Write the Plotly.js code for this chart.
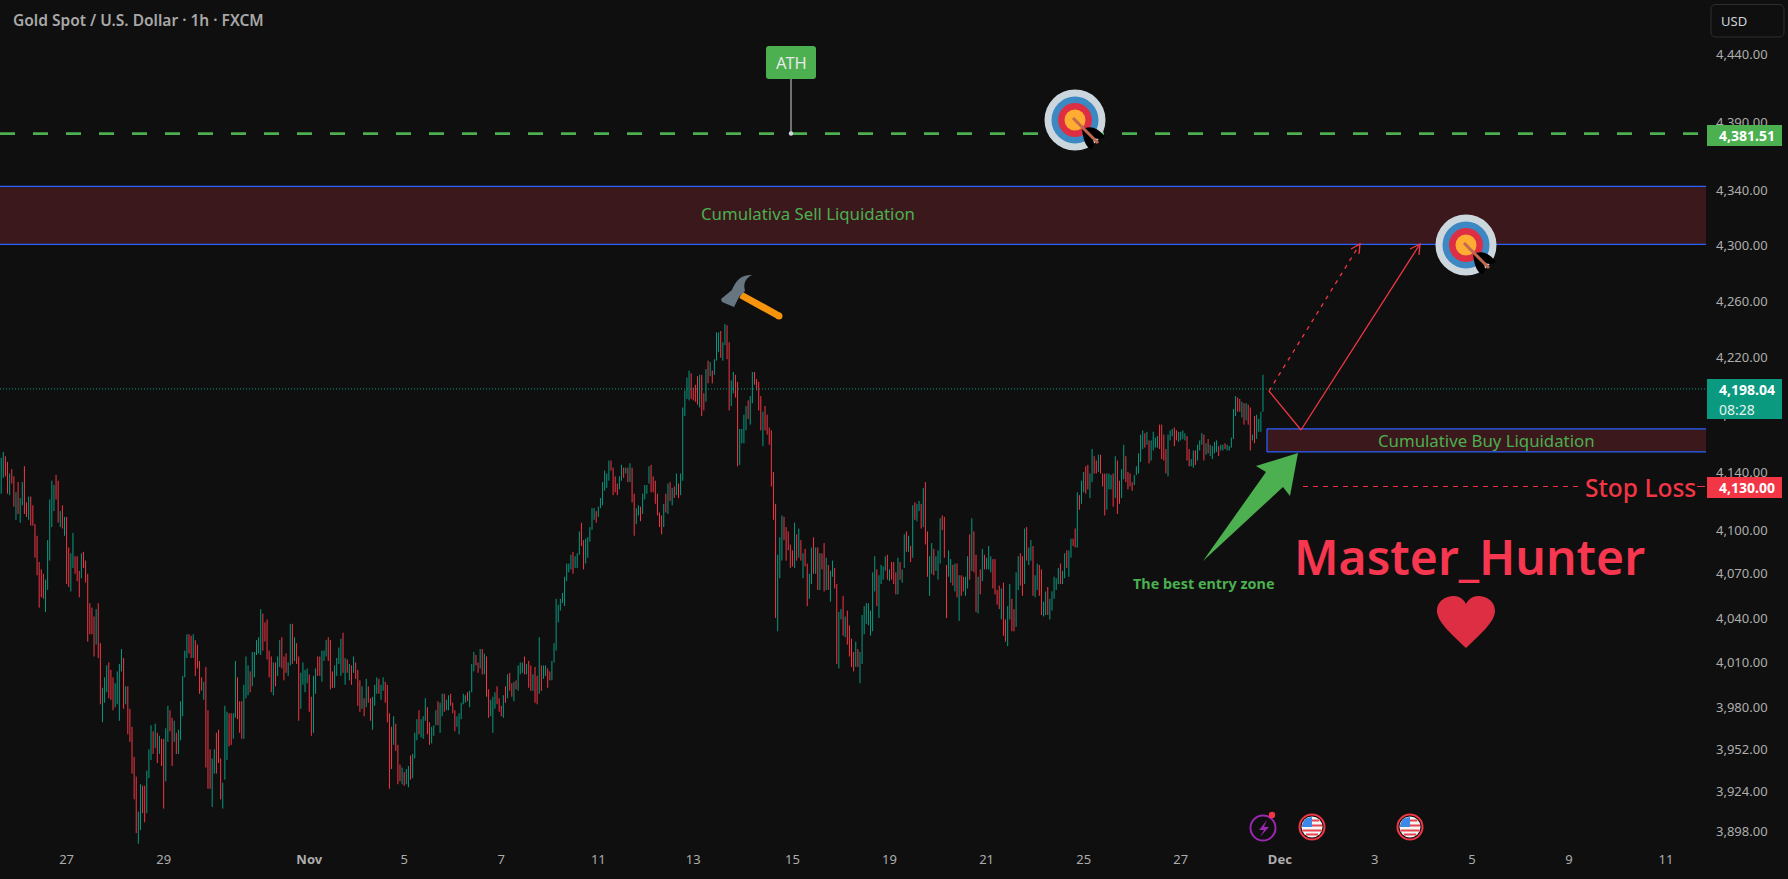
<!DOCTYPE html>
<html><head><meta charset="utf-8">
<script src="https://cdn.plot.ly/plotly-3.0.1.min.js"></script>
<style>html,body{margin:0;padding:0;background:#0f0f0f;overflow:hidden}</style>
</head><body><div id="chart" style="width:1788px;height:879px"></div>
<script>
const barHigh = [
4150,4154,4151,4147,4139,4142,4137,4126,4133,4122,
4133,4144,4119,4123,4123,4117,4104,4096,4078,4073,
4070,4066,4093,4121,4134,4131,4138,4134,4113,4117,
4109,4109,4088,4084,4098,4082,4082,4072,4084,4085,
4079,4070,4050,4047,4041,4046,4050,4023,3993,4000,
4008,4010,4005,4000,3996,4004,4009,4019,4013,3994,
3994,3979,3967,3947,3934,3911,3929,3928,3928,3938,
3952,3968,3964,3969,3963,3961,3959,3959,3966,3981,
3978,3973,3971,3963,3965,3984,4001,4018,4029,4029,
4028,4029,4025,4022,4011,4000,3997,4007,3978,3952,
3946,3952,3963,3965,3946,3930,3981,3977,3976,3976,
3976,4011,4000,3984,3984,3995,4014,4008,4004,4017,
4017,4025,4027,4046,4043,4037,4039,4018,4014,4010,
4010,4014,4025,4027,4014,4016,4010,4036,4036,4027,
4023,4014,4003,4010,4005,4006,4002,3987,4001,4006,
4014,4014,4018,4018,4025,4027,4025,4004,4008,4013,
4020,4026,4030,4013,4012,4009,4008,4014,4010,4005,
3998,3994,3986,3999,3994,3986,3987,3995,4000,3999,
3995,4000,3997,3995,3976,3967,3974,3969,3955,3942,
3940,3937,3939,3941,3948,3949,3963,3972,3978,3972,
3974,3986,3980,3970,3967,3968,3978,3984,3983,3989,
3989,3985,3988,3989,3983,3978,3974,3976,3983,3989,
3988,3990,3991,4009,4017,4015,4010,4019,4019,4016,
4014,3992,3985,3987,3990,3994,3986,3981,3988,3994,
4002,4003,3996,3997,3998,4008,4010,4010,4014,4009,
4011,4008,4002,4007,4001,4027,4008,4008,4008,4006,
4004,4011,4023,4053,4049,4053,4057,4068,4077,4077,
4083,4085,4082,4084,4099,4105,4093,4094,4095,4102,
4115,4115,4113,4116,4122,4133,4141,4139,4148,4148,
4143,4137,4132,4137,4145,4143,4143,4143,4146,4143,
4125,4115,4117,4116,4125,4131,4131,4144,4145,4137,
4134,4125,4112,4110,4118,4125,4132,4133,4129,4130,
4139,4132,4139,4185,4197,4206,4211,4209,4199,4201,
4207,4208,4208,4195,4212,4218,4217,4211,4219,4238,
4238,4239,4231,4244,4243,4231,4204,4210,4208,4203,
4170,4170,4180,4186,4190,4193,4210,4210,4205,4203,
4193,4182,4186,4180,4171,4169,4140,4118,4083,4095,
4110,4109,4102,4099,4090,4086,4105,4097,4101,4093,
4084,4087,4077,4070,4088,4095,4088,4088,4084,4084,
4091,4081,4076,4072,4079,4074,4063,4044,4046,4055,
4041,4045,4035,4026,4017,4024,4019,4017,4042,4048,
4050,4050,4045,4071,4082,4073,4069,4076,4075,4082,
4083,4073,4078,4078,4071,4081,4078,4073,4097,4099,
4096,4089,4117,4119,4118,4120,4118,4129,4133,4099,
4082,4091,4087,4082,4086,4108,4110,4109,4076,4086,
4080,4076,4077,4077,4069,4069,4068,4068,4082,4097,
4108,4099,4083,4068,4073,4087,4083,4081,4089,4082,
4080,4080,4059,4062,4060,4064,4039,4048,4063,4053,
4046,4071,4082,4084,4082,4101,4102,4088,4093,4089,
4069,4077,4076,4073,4051,4058,4061,4053,4058,4068,
4067,4074,4077,4072,4084,4086,4086,4094,4094,4101,
4126,4124,4134,4140,4144,4145,4139,4156,4151,4148,
4152,4152,4139,4139,4139,4139,4138,4139,4151,4148,
4134,4142,4159,4151,4140,4139,4133,4138,4144,4153,
4166,4169,4167,4168,4162,4162,4168,4164,4165,4173,
4173,4166,4156,4166,4169,4170,4171,4169,4168,4168,
4169,4167,4165,4156,4149,4155,4155,4159,4162,4167,
4166,4160,4163,4159,4158,4161,4162,4158,4159,4159,
4160,4159,4158,4164,4184,4193,4192,4191,4189,4188,
4188,4187,4185,4166,4179,4180,4177,4182,4208];
const barLow = [
4125,4136,4137,4125,4124,4132,4116,4107,4111,4105,
4117,4111,4109,4107,4103,4103,4081,4069,4047,4054,
4053,4044,4059,4079,4102,4113,4121,4105,4102,4101,
4096,4063,4061,4058,4074,4070,4065,4054,4067,4074,
4064,4024,4029,4029,4014,4022,4013,3982,3970,3983,
3990,3986,3985,3978,3980,3982,3971,4004,3979,3982,
3962,3957,3936,3919,3897,3890,3899,3910,3904,3910,
3933,3945,3949,3953,3943,3949,3941,3913,3931,3957,
3964,3941,3957,3949,3949,3958,3974,4000,4013,4016,
4013,4013,4001,4006,3989,3991,3985,3940,3926,3926,
3914,3936,3936,3943,3919,3913,3932,3945,3954,3955,
3959,3973,3972,3963,3959,3959,3986,3988,3990,3994,
4000,4015,4016,4015,4018,4024,4012,4000,3990,3988,
3994,4001,4007,4006,3998,4003,4001,4008,4009,4011,
4009,3971,3979,3995,3990,3996,3977,3961,3963,3989,
4001,4001,3997,4011,4014,4011,3992,3993,3993,4001,
4009,4001,4003,3995,4003,3998,3995,4003,3999,3981,
3977,3979,3974,3980,3983,3971,3965,3981,3989,3989,
3985,3991,3983,3970,3926,3939,3955,3951,3929,3931,
3929,3928,3929,3927,3932,3933,3946,3958,3962,3960,
3959,3971,3962,3955,3956,3961,3968,3968,3963,3974,
3977,3978,3978,3981,3976,3964,3967,3962,3972,3982,
3983,3984,3980,3990,4004,4008,4003,4006,4002,4002,
3987,3973,3974,3963,3979,3982,3977,3974,3973,3983,
3986,3991,3987,3984,3992,3991,4002,4003,4002,4002,
3993,3991,3991,3983,3982,3989,3991,3999,4001,3993,
3998,3998,4010,4018,4037,4045,4050,4048,4065,4071,
4073,4070,4074,4074,4083,4089,4073,4077,4081,4092,
4100,4107,4105,4109,4115,4117,4127,4129,4134,4141,
4124,4126,4124,4128,4134,4136,4139,4133,4133,4119,
4096,4104,4110,4106,4111,4121,4125,4132,4126,4126,
4118,4110,4102,4097,4102,4112,4111,4120,4117,4122,
4124,4122,4124,4134,4179,4191,4190,4191,4190,4189,
4187,4185,4179,4183,4189,4202,4207,4202,4208,4218,
4224,4220,4218,4229,4219,4183,4186,4195,4192,4144,
4145,4160,4160,4169,4177,4173,4188,4201,4197,4183,
4169,4158,4169,4166,4159,4130,4107,4040,4031,4067,
4079,4093,4079,4086,4074,4075,4074,4079,4081,4079,
4067,4075,4048,4053,4063,4070,4070,4059,4059,4073,
4058,4059,4059,4051,4068,4060,4009,4006,4039,4028,
4027,4022,4014,4007,4004,4007,4007,3996,4009,4029,
4036,4035,4028,4031,4058,4048,4040,4063,4066,4072,
4066,4065,4066,4063,4056,4056,4066,4064,4074,4085,
4085,4078,4081,4107,4106,4113,4101,4102,4090,4068,
4055,4070,4069,4072,4066,4077,4100,4081,4040,4068,
4064,4062,4058,4054,4038,4055,4058,4055,4060,4066,
4072,4071,4044,4043,4056,4065,4073,4073,4073,4071,
4060,4056,4049,4046,4039,4028,4024,4021,4039,4031,
4031,4034,4059,4062,4055,4063,4079,4076,4079,4055,
4054,4059,4055,4042,4041,4042,4042,4039,4045,4053,
4059,4063,4063,4063,4067,4074,4068,4081,4089,4088,
4088,4114,4118,4126,4125,4128,4122,4133,4139,4139,
4140,4139,4130,4110,4114,4128,4128,4116,4122,4111,
4118,4122,4135,4133,4128,4130,4127,4131,4138,4139,
4147,4156,4157,4159,4146,4148,4155,4157,4157,4156,
4149,4148,4139,4137,4162,4165,4158,4162,4161,4162,
4163,4162,4148,4144,4144,4143,4145,4148,4155,4159,
4148,4152,4153,4151,4149,4153,4154,4151,4155,4155,
4156,4155,4155,4157,4163,4179,4182,4182,4178,4173,
4176,4173,4155,4162,4160,4163,4168,4168,4182];
const barDir = [
"GGRRGRRGRG","GRRGRRRRRR","RGGGGGRRGR","GRRGGRRRGR","RRRRRGRRGG",
"GRRRGGGGRG","RRRRRGGRRG","GGRGRGRRGG","RRGRGGGGGR","RGRRRRGRRR",
"GGRRRGGGRR","GGRRRGGGRG","GGGGRRRRRG","RGGRRRGGRG","RRGGGGRRGG",
"RRGGGRRRGG","GGRGRGRGRR","RGRGRRGGGR","GGRRRRGRRR","GRGGRGGGRG",
"GGRRGGGRGG","RGGRRRGGGG","GRGGGRRGRG","RRGGGRRRGR","GRRGRGGGRG",
"RRGRRGRGGR","RGGGGGGGGG","GRGGGRRGGG","GGRGGGGGGR","RRRGGRGRGR",
"RGGRGGGGRR","RRRRGRGRGR","GRGGGGGRRR","RGRRGRGRGG","GRGGRRGGRR",
"GGGGRGGRRR","RGRRRRRRGG","GRRRRRGRGR","GRRGGRGRGR","RGRGGRRGGR",
"GRRRRGRGGG","GGGGGRGGGG","RGRRRGRGGR","GRGRGGRGRR","GGRGGGRRRG",
"GRGRGRRGGR","GRRGRGRGGG","RRRRGRRGGR","RGGRRGRGGR","GGRRGGRGGG",
"GGRGGRGGRR","GRGGRRGGRR","GRRRGGGRGR","RGGRRRRGGG","GGRGRGGGGR",
"RRRGGGRRGG","GGRRGGRGGG","RGRGGGGRGG","RGGGGGRRGR","GRRGRGGGG"].join("");
const yTickVals = [4440,4390,4340,4300,4260,4220,4180,4140,4100,4070,4040,4010,3980,3952,3924,3898];
const yTickText = ["4,440.00","4,390.00","4,340.00","4,300.00","4,260.00","4,220.00","4,180.00","4,140.00","4,100.00","4,070.00","4,040.00","4,010.00","3,980.00","3,952.00","3,924.00","3,898.00"];
const xTickIdx = [31,77,146,191,237,283,328,375,421,467,513,559,606,651,697,743,789];
const xTickText = ["27","29","<b>Nov</b>","5","7","11","13","15","19","21","25","27","<b>Dec</b>","3","5","9","11"];
const athPrice = 4381.51, lastPrice = 4198.04, stopPrice = 4130;
const sellZone = [4301, 4343], buyZone = [4154, 4170];

const UP = "#089981", DOWN = "#f23645", GREEN = "#4caf50", BLUE = "#2962ff", ZONE = "#3b181c", BG = "#0f0f0f";
const W = 1706, H = 850;
const fx = p => p / W, fy = p => 1 - p / H;
const dirs = barDir.split("");

function barTrace(code, color) {
  const x = [], y = [];
  barHigh.forEach((h, i) => {
    if (dirs[i] !== code) return;
    x.push(i, i, null);
    y.push(barLow[i], h, null);
  });
  return {type: "scatter", mode: "lines", x, y, line: {color, width: 1}, connectgaps: false, hoverinfo: "skip", showlegend: false};
}
const traces = [barTrace("G", UP), barTrace("R", DOWN)];

const shapes = [];
const path = (pts, o) => shapes.push(Object.assign({type: "path", xref: "paper", yref: "paper", path: pts, line: {width: 0}}, o));
const T = (s) => s.replace(/(-?[\d.]+),(-?[\d.]+)/g, (m, a, b) => fx(+a) + "," + fy(+b));
const circle = (cx, cy, r, fill, line) => shapes.push({type: "circle", xref: "paper", yref: "paper",
  x0: fx(cx - r), x1: fx(cx + r), y0: fy(cy + r), y1: fy(cy - r), fillcolor: fill || "rgba(0,0,0,0)", line: line || {width: 0}});
const hLevel = (p, x0, x1, color, width, dash) => shapes.push({type: "line", xref: "paper", yref: "y", x0: fx(x0), x1: fx(x1), y0: p, y1: p, line: {color, width, dash}});
const seg = (x0, y0, x1, y1, color, width, dash) => shapes.push({type: "line", xref: "paper", yref: "paper", x0: fx(x0), x1: fx(x1), y0: fy(y0), y1: fy(y1), line: {color, width, dash: dash || "solid"}});
const box = (x0, y0, x1, y1, fill) => shapes.push({type: "rect", xref: "paper", yref: "paper", x0: fx(x0), x1: fx(x1), y0: fy(y1), y1: fy(y0), fillcolor: fill, line: {width: 0}});

// zones
shapes.push({type: "rect", xref: "paper", yref: "y", x0: 0, x1: 1, y0: sellZone[0], y1: sellZone[1], fillcolor: ZONE, line: {width: 0}});
hLevel(sellZone[0], 0, W, BLUE, 1.2); hLevel(sellZone[1], 0, W, BLUE, 1.2);
shapes.push({type: "rect", xref: "paper", yref: "y", x0: fx(1267), x1: 1, y0: buyZone[0], y1: buyZone[1], fillcolor: ZONE, line: {width: 0}});
hLevel(buyZone[0], 1267, W, BLUE, 1.2); hLevel(buyZone[1], 1267, W, BLUE, 1.2);
shapes.push({type: "line", xref: "paper", yref: "y", x0: fx(1267), x1: fx(1267), y0: buyZone[0], y1: buyZone[1], line: {color: BLUE, width: 1.2}});

// price lines
hLevel(lastPrice, 0, W, UP, 1, "1px,2px");
hLevel(athPrice, 0, 1698, GREEN, 2.6, "15px,18px");
hLevel(stopPrice, 1303, 1579, DOWN, 1, "5px,5px");
hLevel(stopPrice, 1697, 1705, DOWN, 1);

// target icons
function target(cx, cy) {
  circle(cx, cy, 30.5, "#ccd6dd"); circle(cx, cy, 23.5, "#3b88c3"); circle(cx, cy, 17, "#dd2e44"); circle(cx, cy, 10.5, "#ffac33");
  path(T(`M${cx+7},${cy+9} Q${cx+20},${cy+3} ${cx+30},${cy+17} Q${cx+24},${cy+21} ${cx+17},${cy+17} Q${cx+21},${cy+24} ${cx+17},${cy+29} Q${cx+9},${cy+28} ${cx+7},${cy+9} Z`), {fillcolor: "#000000"});
  seg(cx - 2, cy - 2, cx + 23, cy + 23, "#c1694f", 3);
}
target(1075, 120); target(1466, 245);

// hammer
seg(741, 295, 779, 316, "#f7940d", 7);
circle(779, 316, 3.5, "#f7940d");
path(T("M752,275 Q738,274 732,290 L721,299 L722,302 L734,307 L739,297 L745,291 Q742,280 752,275 Z"), {fillcolor: "#66757f"});

// ATH flag
path(T("M769,46 L813,46 Q816,46 816,49 L816,76 Q816,79 813,79 L769,79 Q766,79 766,76 L766,49 Q766,46 769,46 Z"), {fillcolor: GREEN});
seg(791, 79, 791, 133, "#d1d4dc", 1);
circle(791, 133.5, 2.2, "#d1d4dc");

// red arrows
seg(1269, 391, 1301, 430, DOWN, 1.3);
seg(1301, 430, 1420, 244, DOWN, 1.3);
path(T("M1410,249 L1420,244 L1419,255"), {line: {color: DOWN, width: 1.3}, fillcolor: "rgba(0,0,0,0)"});
seg(1269, 391, 1360, 244, DOWN, 1.3, "4px,5px");
path(T("M1351,249 L1360,244 L1359,254"), {line: {color: DOWN, width: 1.3}, fillcolor: "rgba(0,0,0,0)"});

// big green arrow
path(T("M1203,561 L1266,472 L1256,466 L1298,453 L1290,496 L1283,487 Z"), {fillcolor: GREEN});

// heart
path(T("M1466,648 C1450,633 1437,621 1437,611 C1437,600 1447,596 1454,596 C1460,596 1464,600 1466,604 C1468,600 1472,596 1478,596 C1485,596 1495,600 1495,611 C1495,621 1482,633 1466,648 Z"), {fillcolor: "#dd2e44"});

// bottom icons
circle(1263, 828, 12.5, "rgba(0,0,0,0)", {color: "#9c27b0", width: 2});
path(T("M1267,820 L1259,830 L1264,830 L1260,837 L1269,827 L1264,827 Z"), {fillcolor: "#9c27b0"});
circle(1272, 815, 3.2, DOWN);
function flag(cx, cy) {
  circle(cx, cy, 12.5, "rgba(0,0,0,0)", {color: DOWN, width: 2});
  circle(cx, cy, 10.5, "#f5f5f5");
  [[-7.5,-5.5],[-2.5,-0.5],[2.5,4.5],[6.5,8.5]].forEach(([a,b]) => {
    const r = 10.5, w = Math.sqrt(r*r - Math.max(a*a,b*b));
    path(T(`M${cx-w},${cy+a} L${cx+w},${cy+a} L${cx+w},${cy+b} L${cx-w},${cy+b} Z`), {fillcolor: "#e8424e"});
  });
  path(T(`M${cx-10},${cy} L${cx},${cy} L${cx},${cy-10} Q${cx-9},${cy-10} ${cx-10},${cy} Z`), {fillcolor: "#3b88e8"});
}
flag(1312, 827); flag(1410, 827);

// USD button
path(T("M1716,4.5 L1779,4.5 Q1784,4.5 1784,9.5 L1784,32 Q1784,37 1779,37 L1716,37 Q1711,37 1711,32 L1711,9.5 Q1711,4.5 1716,4.5 Z"), {fillcolor: "rgba(0,0,0,0)", line: {color: "#2e2e2e", width: 1}});

// price tags
box(1707, 125, 1782, 146, GREEN);
box(1707, 379, 1782, 419, "#0a9a80");
box(1707, 477, 1782, 498, DOWN);

const F = "'Noto Sans', sans-serif";
const note = (text, x, y, size, color, extra) => Object.assign({text, x: fx(x), y: fy(y), xref: "paper", yref: "paper", showarrow: false,
  xanchor: "center", yanchor: "middle", font: {family: F, size, color}}, extra || {});
const left = {xanchor: "left"};

const annotations = [
  note("Gold Spot / U.S. Dollar · 1h · FXCM", 11, 20, 15.5, "#a8a8a8", {xanchor: "left", font: {family: F, size: 15.5, color: "#a8a8a8", weight: 600}}),
  note("ATH", 791, 62.5, 16.5, "#e8e8e8"),
  note("Cumulativa Sell Liquidation", 808, 214, 16.8, GREEN),
  note("Cumulative Buy Liquidation", 1486, 440, 16.8, GREEN),
  note("The best entry zone", 1204, 583, 14.4, GREEN, {font: {family: F, size: 14.4, color: GREEN, weight: 700}}),
  note("Stop Loss", 1640, 487, 24.5, DOWN, {font: {family: F, size: 24.5, color: DOWN, weight: 500}}),
  note("Master_Hunter", 1469, 556, 48, "#f7374f", {font: {family: F, size: 48, color: "#f7374f", weight: 600}}),
  note("USD", 1734, 21, 13, "#d1d4dc"),
  note("<b>4,381.51</b>", 1717, 135.5, 14, "#ffffff", left),
  note("<b>4,198.04</b>", 1717, 390, 14, "#ffffff", left),
  note("08:28", 1717, 409, 14, "#e4f2ee", left),
  note("<b>4,130.00</b>", 1717, 487.5, 14, "#ffffff", left)
];

const priceAt = y => 3898 * Math.exp((831.5 - y) / 5968);
const layout = {
  width: 1788, height: 879, paper_bgcolor: BG, plot_bgcolor: BG,
  margin: {l: 0, r: 82, t: 0, b: 29, pad: 0}, showlegend: false,
  xaxis: {type: "linear", range: [-1.2 / 2.11, (W - 1.2) / 2.11], showgrid: false, zeroline: false, showline: false, ticks: "",
    tickmode: "array", tickvals: xTickIdx, ticktext: xTickText, tickfont: {family: F, size: 13, color: "#adadad"}},
  yaxis: {type: "log", side: "right", range: [Math.log10(priceAt(H)), Math.log10(priceAt(0))], showgrid: false, zeroline: false, showline: false, ticks: "",
    tickmode: "array", tickvals: yTickVals, ticktext: yTickText, ticklabelstandoff: 9, tickfont: {family: F, size: 13, color: "#adadad"}},
  shapes, annotations
};
Plotly.newPlot("chart", traces, layout, {displayModeBar: false, staticPlot: true});
</script></body></html>
